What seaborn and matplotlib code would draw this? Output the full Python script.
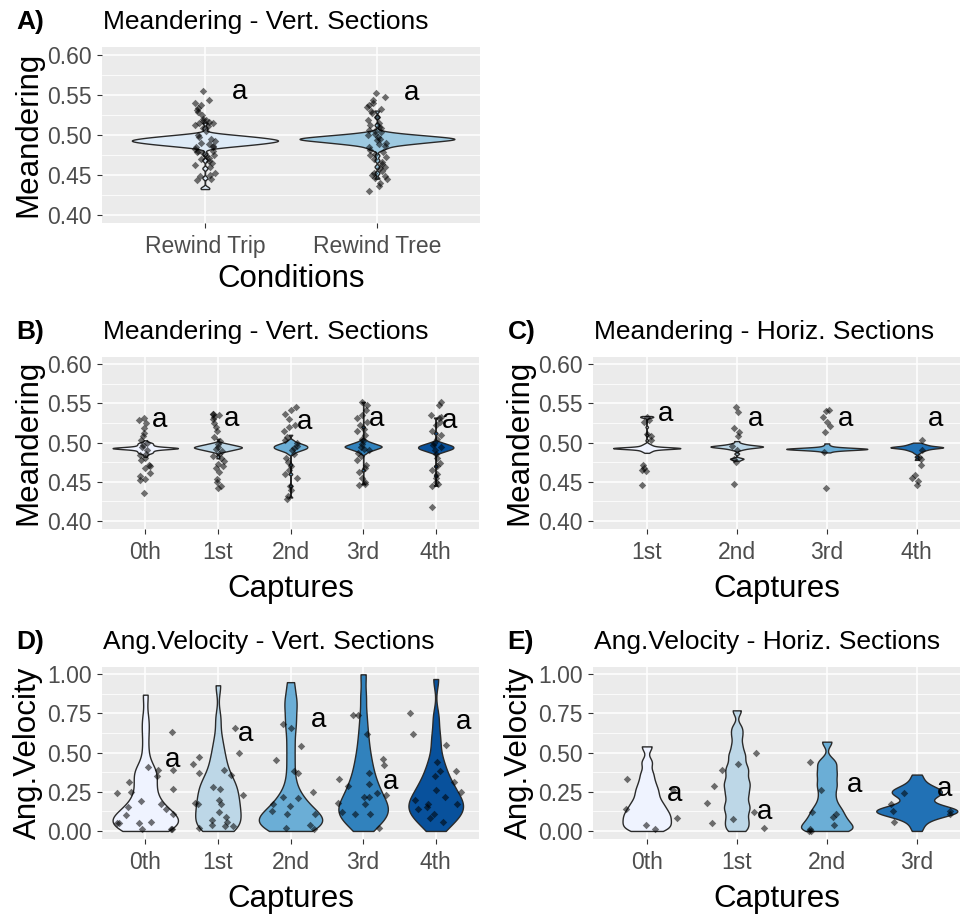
import numpy as np
import pandas as pd
import matplotlib
matplotlib.use("Agg")
import matplotlib.pyplot as plt
import seaborn as sns

plt.rcParams['font.family'] = ['Liberation Sans', 'DejaVu Sans']

# ---------------- data ----------------
# Violin samples of the meandering panels are kept as frequency tables (value, count)

# Panel A
A_cats = ["Rewind Trip", "Rewind Tree"]
A_trip_vals = [0.432, 0.434, 0.446, 0.458, 0.468, 0.476, 0.4825, 0.4845, 0.4865, 0.4885, 0.4905,
               0.4925, 0.4945, 0.4965, 0.4985, 0.5005, 0.5025, 0.508, 0.515]
A_trip_counts = [1, 1, 1, 1, 1, 1, 1, 4, 7, 10, 12, 14, 12, 10, 7, 4, 1, 1, 1]
A_tree_vals = [0.445, 0.452, 0.460, 0.468, 0.474, 0.4806, 0.4826, 0.4846, 0.4866, 0.4886, 0.4906,
               0.4926, 0.4946, 0.4966, 0.4986, 0.5006, 0.5026, 0.5046, 0.512, 0.522, 0.530]
A_tree_counts = [1, 1, 1, 1, 1, 1, 2, 2, 4, 7, 10, 13, 17, 13, 10, 6, 3, 1, 1, 1, 1]
A_trip_pts = [0.554, 0.543, 0.540, 0.537, 0.533, 0.531, 0.528, 0.525, 0.520, 0.518, 0.517, 0.516,
              0.515, 0.514, 0.512, 0.511, 0.508, 0.505, 0.500, 0.497, 0.495, 0.492, 0.490, 0.488,
              0.486, 0.485, 0.484, 0.482, 0.480, 0.479, 0.478, 0.477, 0.475, 0.473, 0.471, 0.469,
              0.467, 0.465, 0.462, 0.460, 0.452, 0.450, 0.448, 0.445, 0.443]
A_tree_pts = [0.552, 0.547, 0.543, 0.540, 0.537, 0.534, 0.532, 0.530, 0.527, 0.522, 0.518, 0.515,
              0.512, 0.510, 0.508, 0.506, 0.505, 0.503, 0.501, 0.499, 0.497, 0.495, 0.493, 0.490,
              0.488, 0.486, 0.484, 0.481, 0.478, 0.476, 0.474, 0.472, 0.469, 0.466, 0.463, 0.460,
              0.458, 0.455, 0.452, 0.450, 0.448, 0.446, 0.444, 0.440, 0.436, 0.430]
A_letter_y = [0.553, 0.552]

# Panel B (Meandering, vertical sections)
B_cats = ["0th", "1st", "2nd", "3rd", "4th"]
B_vals_0 = [0.4820, 0.4840, 0.4865, 0.4880, 0.4895, 0.4910, 0.4915, 0.4925, 0.4930, 0.4940,
            0.4945, 0.4955, 0.4970, 0.4985, 0.5000, 0.5030]
B_counts_0 = [1, 1, 3, 3, 3, 3, 2, 3, 17, 3, 2, 3, 3, 3, 3, 1]
B_vals_1 = [0.4800, 0.4830, 0.4880, 0.4895, 0.4910, 0.4925, 0.4940, 0.4955, 0.4970, 0.4985,
            0.5000, 0.5050]
B_counts_1 = [1, 1, 2, 4, 6, 8, 10, 8, 6, 4, 2, 1]
B_vals_2 = [0.4300, 0.4450, 0.4600, 0.4720, 0.4855, 0.4870, 0.4885, 0.4900, 0.4915, 0.4930,
            0.4945, 0.4960, 0.4975, 0.4990, 0.5005, 0.5020, 0.5035, 0.5100]
B_counts_2 = [1, 1, 1, 1, 1, 1, 2, 3, 4, 5, 5, 5, 4, 3, 2, 1, 1, 1]
B_vals_3 = [0.4470, 0.4650, 0.4860, 0.4875, 0.4890, 0.4905, 0.4920, 0.4935, 0.4950, 0.4965,
            0.4980, 0.4995, 0.5010, 0.5025, 0.5040, 0.5200, 0.5520]
B_counts_3 = [1, 1, 1, 1, 2, 3, 4, 5, 6, 5, 4, 3, 2, 1, 1, 1, 1]
B_vals_4 = [0.4450, 0.4580, 0.4700, 0.4865, 0.4880, 0.4895, 0.4910, 0.4925, 0.4940, 0.4955,
            0.4970, 0.4985, 0.5000, 0.5015, 0.5120, 0.5320]
B_counts_4 = [1, 1, 1, 1, 2, 3, 4, 5, 5, 5, 4, 3, 2, 1, 1, 1]
B_pts_0 = [0.531, 0.529, 0.525, 0.519, 0.512, 0.508, 0.504, 0.500, 0.497, 0.495, 0.490, 0.486,
           0.484, 0.481, 0.478, 0.471, 0.470, 0.467, 0.461, 0.457, 0.454, 0.452, 0.436]
B_pts_1 = [0.537, 0.536, 0.535, 0.533, 0.530, 0.525, 0.520, 0.515, 0.507, 0.502, 0.498, 0.495,
           0.492, 0.489, 0.485, 0.483, 0.480, 0.477, 0.473, 0.470, 0.467, 0.462, 0.454, 0.450,
           0.445, 0.442]
B_pts_2 = [0.545, 0.542, 0.537, 0.530, 0.522, 0.520, 0.515, 0.507, 0.504, 0.500, 0.496, 0.493,
           0.490, 0.486, 0.480, 0.475, 0.470, 0.465, 0.460, 0.455, 0.445, 0.440, 0.432, 0.428]
B_pts_3 = [0.552, 0.548, 0.542, 0.535, 0.532, 0.527, 0.522, 0.518, 0.515, 0.510, 0.505, 0.502,
           0.498, 0.495, 0.492, 0.490, 0.487, 0.483, 0.478, 0.472, 0.468, 0.462, 0.455, 0.450,
           0.447, 0.446]
B_pts_4 = [0.552, 0.548, 0.535, 0.533, 0.531, 0.527, 0.523, 0.515, 0.510, 0.505, 0.500, 0.497,
           0.494, 0.490, 0.486, 0.480, 0.474, 0.470, 0.465, 0.460, 0.455, 0.450, 0.447, 0.445,
           0.418]
B_letter_y = [0.529, 0.530, 0.527, 0.531, 0.528]

# Panel C (Meandering, horizontal sections)
C_cats = ["1st", "2nd", "3rd", "4th"]
C_vals_0 = [0.4870, 0.4885, 0.4900, 0.4915, 0.4930, 0.4945, 0.4960, 0.4975, 0.4990, 0.5030,
            0.5100, 0.5200, 0.5320, 0.5330, 0.5340]
C_counts_0 = [1, 2, 3, 4, 24, 4, 3, 2, 1, 1, 1, 1, 1, 4, 1]
C_vals_1 = [0.4770, 0.4790, 0.4795, 0.4800, 0.4860, 0.4905, 0.4920, 0.4935, 0.4950, 0.4965,
            0.4980, 0.4995, 0.5020]
C_counts_1 = [1, 1, 1, 1, 1, 1, 2, 4, 8, 4, 2, 1, 1]
C_vals_2 = [0.4875, 0.4890, 0.4905, 0.4920, 0.4935, 0.4950, 0.4965, 0.4990]
C_counts_2 = [1, 1, 5, 14, 5, 1, 1, 1]
C_vals_3 = [0.4780, 0.4820, 0.4865, 0.4880, 0.4895, 0.4910, 0.4925, 0.4940, 0.4955, 0.4970,
            0.4985, 0.5000]
C_counts_3 = [1, 1, 1, 1, 2, 3, 4, 10, 4, 3, 2, 1]
C_pts_0 = [0.533, 0.529, 0.527, 0.511, 0.509, 0.503, 0.472, 0.467, 0.465, 0.464, 0.446]
C_pts_1 = [0.545, 0.539, 0.519, 0.514, 0.509, 0.496, 0.491, 0.479, 0.475, 0.447]
C_pts_2 = [0.542, 0.540, 0.533, 0.527, 0.521, 0.513, 0.488, 0.442]
C_pts_3 = [0.503, 0.491, 0.482, 0.479, 0.471, 0.459, 0.455, 0.451, 0.446]
C_letter_y = [0.537, 0.531, 0.530, 0.531]

# Panel D (Angular velocity, vertical sections)
D_cats = ["0th", "1st", "2nd", "3rd", "4th"]
D_vio_0 = [0.0, 0.0, 0.01, 0.02, 0.03, 0.04, 0.05, 0.05, 0.06, 0.06, 0.07, 0.08, 0.09, 0.10,
           0.11, 0.12, 0.14, 0.15, 0.17, 0.19, 0.22, 0.25, 0.28, 0.31, 0.35, 0.37, 0.39, 0.41,
           0.52, 0.63, 0.72, 0.87]
D_vio_1 = [0.0, 0.0, 0.01, 0.03, 0.04, 0.05, 0.07, 0.08, 0.10, 0.11, 0.13, 0.14, 0.16, 0.17,
           0.19, 0.20, 0.22, 0.24, 0.25, 0.27, 0.29, 0.30, 0.32, 0.34, 0.37, 0.40, 0.44, 0.48,
           0.53, 0.60, 0.72, 0.93]
D_vio_2 = [0.0, 0.01, 0.02, 0.03, 0.04, 0.05, 0.06, 0.07, 0.08, 0.09, 0.10, 0.11, 0.13, 0.15,
           0.17, 0.20, 0.22, 0.27, 0.35, 0.45, 0.55, 0.65, 0.72, 0.80, 0.85, 0.95]
D_vio_3 = [0.0, 0.03, 0.05, 0.07, 0.08, 0.10, 0.11, 0.12, 0.13, 0.15, 0.16, 0.17, 0.19, 0.20,
           0.22, 0.24, 0.26, 0.28, 0.30, 0.33, 0.36, 0.39, 0.43, 0.47, 0.52, 0.58, 0.65, 0.74,
           0.86, 1.0]
D_vio_4 = [0.0, 0.03, 0.05, 0.07, 0.09, 0.10, 0.11, 0.12, 0.14, 0.15, 0.16, 0.17, 0.18, 0.19,
           0.21, 0.22, 0.24, 0.25, 0.27, 0.29, 0.31, 0.33, 0.36, 0.39, 0.43, 0.47, 0.55, 0.62,
           0.73, 0.97]
D_pts_0 = [0.63, 0.41, 0.39, 0.39, 0.35, 0.31, 0.27, 0.24, 0.25, 0.19, 0.17, 0.15, 0.14, 0.11,
           0.10, 0.06, 0.05, 0.05, 0.05, 0.01, 0.01, 0.01]
D_pts_1 = [0.66, 0.50, 0.47, 0.43, 0.39, 0.37, 0.36, 0.28, 0.27, 0.23, 0.20, 0.18, 0.17, 0.17,
           0.12, 0.09, 0.07, 0.06, 0.04, 0.03, 0.03, 0.02]
D_pts_2 = [0.68, 0.66, 0.54, 0.45, 0.38, 0.37, 0.25, 0.22, 0.21, 0.17, 0.16, 0.13, 0.11, 0.11,
           0.04, 0.02, 0.01]
D_pts_3 = [0.74, 0.74, 0.62, 0.46, 0.42, 0.37, 0.33, 0.30, 0.29, 0.24, 0.23, 0.22, 0.22, 0.18,
           0.17, 0.12, 0.11, 0.11, 0.02]
D_pts_4 = [0.75, 0.62, 0.55, 0.44, 0.38, 0.38, 0.35, 0.31, 0.26, 0.25, 0.22, 0.20, 0.17, 0.17,
           0.15, 0.14, 0.11, 0.08, 0.06]
D_letter_y = [0.453, 0.623, 0.708, 0.315, 0.697]

# Panel E (Angular velocity, horizontal sections)
E_cats = ["0th", "1st", "2nd", "3rd"]
E_vio_0 = [0.0, 0.01, 0.025, 0.04, 0.055, 0.07, 0.085, 0.10, 0.115, 0.13, 0.15, 0.17, 0.19,
           0.22, 0.25, 0.28, 0.32, 0.37, 0.44, 0.54]
E_vio_1 = [0.0, 0.02, 0.05, 0.07, 0.10, 0.13, 0.15, 0.17, 0.20, 0.23, 0.25, 0.28, 0.30, 0.32,
           0.35, 0.38, 0.40, 0.43, 0.47, 0.50, 0.55, 0.61, 0.66, 0.77]
E_vio_2 = [0.0, 0.0, 0.01, 0.02, 0.035, 0.05, 0.065, 0.08, 0.10, 0.12, 0.14, 0.165, 0.20,
           0.24, 0.28, 0.31, 0.35, 0.38, 0.42, 0.45, 0.57]
E_vio_3 = [0.0, 0.04, 0.07, 0.09, 0.10, 0.11, 0.115, 0.12, 0.12, 0.125, 0.13, 0.13, 0.135,
           0.14, 0.145, 0.15, 0.16, 0.19, 0.21, 0.23, 0.24, 0.245, 0.25, 0.255, 0.26, 0.27,
           0.29, 0.32, 0.36]
E_pts_0 = [0.33, 0.26, 0.14, 0.08, 0.04, 0.01]
E_pts_1 = [0.50, 0.43, 0.39, 0.29, 0.18, 0.12, 0.075, 0.05, 0.02]
E_pts_2 = [0.44, 0.26, 0.12, 0.11, 0.09, 0.04, 0.01, 0.0, 0.0]
E_pts_3 = [0.24, 0.17, 0.13, 0.13, 0.11, 0.055]
E_letter_y = [0.24, 0.123, 0.294, 0.272]

A_colors = ["#DEEBF7", "#9ECAE1"]
Blues5 = ["#EFF3FF", "#BDD7E7", "#6BAED6", "#3182BD", "#08519C"]
Blues4 = ["#EFF3FF", "#BDD7E7", "#6BAED6", "#2171B5"]

# ---------------- drawing ----------------
W, H = 960, 915
fig = plt.figure(figsize=(W / 100, H / 100), dpi=100)


def rect(left, top, right, bottom):
    return [left / W, 1 - bottom / H, (right - left) / W, (bottom - top) / H]


def fixed_bw(h):
    return lambda k: h / np.std(k.dataset, ddof=1)


def expand(vals, counts):
    return np.repeat(np.asarray(vals, dtype=float), counts)


def panel(r, cats, vio, pts, colors, bw, jitter, xlim, ylim, yticks, ylabels, yminor,
          ylabel, xlabel, xlab_off, title, tag, letter_dx, letter_y, seed):
    ax = fig.add_axes(rect(*r))
    dv = pd.DataFrame({"cat": np.repeat(cats, [len(v) for v in vio]),
                       "val": np.concatenate(vio)})
    dp = pd.DataFrame({"cat": np.repeat(cats, [len(v) for v in pts]),
                       "val": np.concatenate(pts)})
    sns.violinplot(data=dv, x="cat", y="val", hue="cat", order=cats, hue_order=cats,
                   palette=colors, legend=False, cut=0, density_norm="area",
                   common_norm=True, width=0.9, inner=None, linewidth=1.0,
                   linecolor="#2a2a2a", saturation=1, bw_method=fixed_bw(bw),
                   gridsize=300, ax=ax)
    np.random.seed(seed)
    sns.stripplot(data=dp, x="cat", y="val", order=cats, color="black", alpha=0.55,
                  marker="D", size=3.8, jitter=jitter, linewidth=0, ax=ax, zorder=3)
    for i, (c, ly) in enumerate(zip(cats, letter_y)):
        ax.annotate("a", xy=(i + letter_dx, ly), xytext=(0, -5.2), textcoords="offset points",
                    ha="center", va="baseline", fontsize=20, color="black", zorder=4)
    ax.set_facecolor("#EBEBEB")
    ax.set_axisbelow(True)
    for s in ax.spines.values():
        s.set_visible(False)
    ax.set_xlim(*xlim)
    ax.set_ylim(*ylim)
    ax.set_yticks(yticks)
    ax.set_yticklabels(ylabels)
    ax.set_yticks(yminor, minor=True)
    ax.set_xticks(range(len(cats)))
    ax.set_xticklabels(cats)
    ax.grid(which="major", axis="both", color="white", linewidth=1.1)
    ax.grid(which="minor", axis="y", color="white", linewidth=0.55)
    ax.tick_params(which="major", length=3.5, width=0.8, color="#333333", labelsize=16.5,
                   labelcolor="#4D4D4D", pad=3.5)
    ax.tick_params(axis="x", which="major", pad=5)
    ax.tick_params(which="minor", length=0)
    ax.set_xlabel("")
    ax.set_ylabel("")
    left, top, right, bottom = r
    fig.text((left + min(right, W)) / 2 / W, 1 - (bottom + xlab_off) / H, xlabel,
             ha="center", va="baseline", fontsize=22.5)
    fig.text((left - 73.5) / W, 1 - (top + bottom) / 2 / H, ylabel, rotation=90,
             ha="center", va="center", fontsize=22.5)
    fig.text((left + 1) / W, 1 - (top - 17) / H, title, ha="left", va="baseline",
             fontsize=19)
    fig.text((left - 85) / W, 1 - (top - 17) / H, tag, ha="left", va="baseline",
             fontsize=19, fontweight="bold")
    return ax


mean_ticks = [0.40, 0.45, 0.50, 0.55, 0.60]
mean_labels = ["0.40", "0.45", "0.50", "0.55", "0.60"]
mean_minor = [0.425, 0.475, 0.525, 0.575]
ang_ticks = [0.0, 0.25, 0.5, 0.75, 1.0]
ang_labels = ["0.00", "0.25", "0.50", "0.75", "1.00"]
ang_minor = [0.125, 0.375, 0.625, 0.875]

panel((101.7, 46.5, 480.2, 222.7), A_cats,
      [expand(A_trip_vals, A_trip_counts), expand(A_tree_vals, A_tree_counts)],
      [A_trip_pts, A_tree_pts], A_colors, 0.0018, 0.06, (-0.6, 1.6), (0.39, 0.61),
      mean_ticks, mean_labels, mean_minor, "Meandering", "Conditions", 64.5,
      "Meandering - Vert. Sections", "A)", 0.2, A_letter_y, 1)

panel((101.7, 356.5, 479.3, 528.8), B_cats,
      [expand(B_vals_0, B_counts_0), expand(B_vals_1, B_counts_1), expand(B_vals_2, B_counts_2),
       expand(B_vals_3, B_counts_3), expand(B_vals_4, B_counts_4)],
      [B_pts_0, B_pts_1, B_pts_2, B_pts_3, B_pts_4], Blues5, 0.0012, 0.09, (-0.6, 4.6),
      (0.39, 0.61), mean_ticks, mean_labels, mean_minor, "Meandering", "Captures", 68,
      "Meandering - Vert. Sections", "B)", 0.19, B_letter_y, 2)

panel((592.7, 356.5, 960, 528.8), C_cats,
      [expand(C_vals_0, C_counts_0), expand(C_vals_1, C_counts_1), expand(C_vals_2, C_counts_2),
       expand(C_vals_3, C_counts_3)],
      [C_pts_0, C_pts_1, C_pts_2, C_pts_3], Blues4, 0.0011, 0.06, (-0.6, 3.48),
      (0.39, 0.61), mean_ticks, mean_labels, mean_minor, "Meandering", "Captures", 68,
      "Meandering - Horiz. Sections", "C)", 0.21, C_letter_y, 3)

panel((101.7, 666.5, 479.3, 838.8), D_cats, [D_vio_0, D_vio_1, D_vio_2, D_vio_3, D_vio_4],
      [D_pts_0, D_pts_1, D_pts_2, D_pts_3, D_pts_4], Blues5, 0.06, 0.4, (-0.6, 4.6),
      (-0.05, 1.05), ang_ticks, ang_labels, ang_minor, "Ang.Velocity", "Captures", 68,
      "Ang.Velocity - Vert. Sections", "D)", 0.38, D_letter_y, 4)

panel((592.7, 666.5, 960, 838.8), E_cats, [E_vio_0, E_vio_1, E_vio_2, E_vio_3],
      [E_pts_0, E_pts_1, E_pts_2, E_pts_3], Blues4, 0.03, 0.4, (-0.6, 3.48),
      (-0.05, 1.05), ang_ticks, ang_labels, ang_minor, "Ang.Velocity", "Captures", 68,
      "Ang.Velocity - Horiz. Sections", "E)", 0.31, E_letter_y, 5)

fig.savefig("out.png", dpi=100, facecolor="white")
